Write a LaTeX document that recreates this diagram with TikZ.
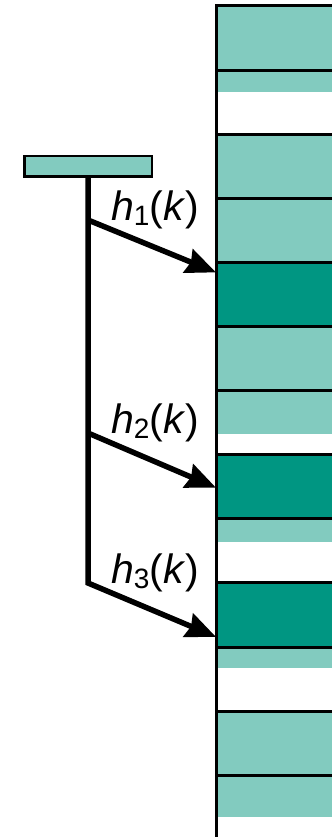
\documentclass[tikz,border=0pt]{standalone}
\usepackage{fontspec}
\setmainfont{Liberation Sans}
\usetikzlibrary{arrows.meta}

\definecolor{chiaro}{RGB}{130,203,191}
\definecolor{scuro}{RGB}{0,150,130}
\newcommand{\hfun}[1]{\textit{h}\raisebox{-5pt}{\fontsize{28}{28}\selectfont #1}(\textit{k})}

\begin{document}
\begin{tikzpicture}[x=1pt,y=-1pt,
	cella/.style={inner sep=0pt, outer sep=0pt, minimum width=116pt, anchor=north west},
	bordo/.style={line width=3pt},
	ramo/.style={line width=5.5pt},
	freccia/.style={ramo, -{Stealth[length=30pt,width=25pt,inset=3pt]}},
	etich/.style={font=\fontsize{41}{48}\selectfont, anchor=base, inner sep=0pt}]
	\useasboundingbox (0,0) rectangle (332,837);

	% Tabella: celle piene e parzialmente occupate
	\foreach \i/\c/\h in {0/chiaro/64, 1/chiaro/22, 2/chiaro/64, 3/chiaro/64,
		4/scuro/64, 5/chiaro/64, 6/chiaro/43, 7/scuro/64, 8/chiaro/23,
		9/scuro/64, 10/chiaro/21, 11/chiaro/64, 12/chiaro/42}
		\node[cella, fill=\c, minimum height=\h pt] (s\i) at (216,{6+64.1*\i}) {};

	% Separatori e bordo sinistro
	\foreach \i in {0,...,12}
		\draw[bordo] (s\i.north west) -- (s\i.north east);
	\coordinate (fondo) at (216,840);
	\draw[bordo] ([yshift=1.5pt]s0.north west) -- (fondo);

	% Chiave
	\node[draw, line width=2.5pt, fill=chiaro, inner sep=0pt,
		minimum width=127.5pt, minimum height=20.5pt] (chiave) at (88,166.5) {};

	% Diramazioni e frecce
	\coordinate (b1) at (88,220);
	\coordinate (b2) at (88,433);
	\coordinate (b3) at (88,583);
	\coordinate (t1) at ([yshift=-10pt]s4.north west);
	\coordinate (t2) at ([yshift=-33pt]s7.north west);
	\coordinate (t3) at ([yshift=-54pt]s9.north west);
	\draw[freccia] (chiave.south) -- (b3) -- (t3);
	\draw[freccia] (b1) -- (t1);
	\draw[freccia] (b2) -- (t2);

	% Etichette
	\node[etich] (l1) at ([xshift=67pt]b1) {\hfun{1}};
	\node[etich] (l2) at ([xshift=67pt]b2) {\hfun{2}};
	\node[etich] (l3) at ([xshift=67pt]b3) {\hfun{3}};
\end{tikzpicture}
\end{document}
